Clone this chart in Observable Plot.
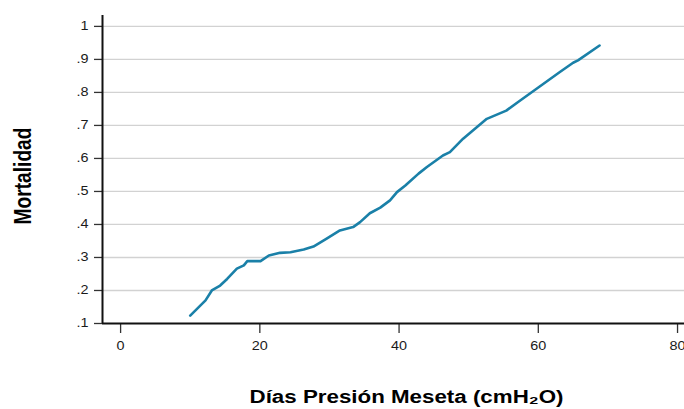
<!DOCTYPE html>
<html><head><meta charset="utf-8">
<script src="https://cdn.jsdelivr.net/npm/d3@7"></script>
<script src="https://cdn.jsdelivr.net/npm/@observablehq/plot@0.6"></script>
<style>body{margin:0;background:#fff} svg{font-family:"Liberation Sans",Arial,sans-serif}</style>
</head><body><div id="chart"></div>
<script>
const dias = [10.0, 12.2, 13.1, 14.3, 15.3, 16.7, 17.7, 18.2, 20.1, 21.3, 22.9, 24.4, 26.3, 27.7, 29.6, 31.5, 33.4, 34.4, 35.8, 37.3, 38.7, 39.7, 40.9, 42.8, 44.0, 46.3, 47.3, 49.2, 52.6, 55.4, 57.3, 60.2, 63.1, 65.0, 65.7, 68.8];
const mortalidad = [0.124, 0.17, 0.2, 0.215, 0.235, 0.266, 0.276, 0.289, 0.289, 0.306, 0.314, 0.316, 0.324, 0.333, 0.357, 0.382, 0.392, 0.407, 0.434, 0.451, 0.473, 0.498, 0.518, 0.554, 0.574, 0.609, 0.619, 0.66, 0.72, 0.745, 0.774, 0.818, 0.862, 0.89, 0.897, 0.942];
const xTicks = [0, 20, 40, 60, 80];
const yTicks = [0.1, 0.2, 0.3, 0.4, 0.5, 0.6, 0.7, 0.8, 0.9, 1];
const yTickLabels = [".1", ".2", ".3", ".4", ".5", ".6", ".7", ".8", ".9", "1"];
const yTitle = "Mortalidad";
const xTitle = "Días Presión Meseta (cmH₂O)";

const data = dias.map((d, i) => ({x: d, y: mortalidad[i]}));

const chart = Plot.plot({
  width: 684, height: 409,
  marginLeft: 102, marginRight: 0, marginTop: 15, marginBottom: 86,
  style: {fontFamily: '"Liberation Sans", Arial, sans-serif', fontSize: "12px", color: "#1a1a1a", background: "#fff"},
  x: {domain: [-2.6, 81]},
  y: {domain: [0.1, 1.033]},
  marks: [
    Plot.ruleY(yTicks.slice(1), {stroke: "#d2d2d2", strokeWidth: 1.3}),
    Plot.axisY({ticks: yTicks, tickSize: 8, tickPadding: 6, tickFormat: d => yTickLabels[yTicks.indexOf(d)], label: null, stroke: "#333", strokeWidth: 1.3}),
    Plot.axisX({ticks: xTicks, tickSize: 10, tickPadding: 8, tickFormat: d => String(d), label: null, stroke: "#333", strokeWidth: 1.3}),
    Plot.ruleX([-2.6], {stroke: "#111", strokeWidth: 2}),
    Plot.ruleY([0.1], {stroke: "#111", strokeWidth: 2}),
    Plot.line(data, {x: "x", y: "y", stroke: "#1a80a8", strokeWidth: 2.6, curve: "linear"}),
    Plot.text([yTitle], {frameAnchor: "left", dx: -79, dy: 55, rotate: -90, fontWeight: "bold", fontSize: 23, fill: "#000"}),
    Plot.text([xTitle], {frameAnchor: "bottom", lineAnchor: "middle", dx: 13, dy: 74, fontWeight: "bold", fontSize: 18, fill: "#000"})
  ]
});
document.getElementById("chart").appendChild(chart);

d3.select(chart).selectAll("text").each(function() {
  const t = this.textContent;
  if (t === xTitle) {
    this.setAttribute("textLength", 314);
    this.setAttribute("lengthAdjust", "spacingAndGlyphs");
  } else if (t === yTitle) {
    this.setAttribute("textLength", 97);
    this.setAttribute("lengthAdjust", "spacingAndGlyphs");
  } else if (yTickLabels.includes(t) || xTicks.map(String).includes(t)) {
    const len = this.getComputedTextLength();
    this.setAttribute("textLength", len * 1.2);
    this.setAttribute("lengthAdjust", "spacingAndGlyphs");
  }
});
</script></body></html>
